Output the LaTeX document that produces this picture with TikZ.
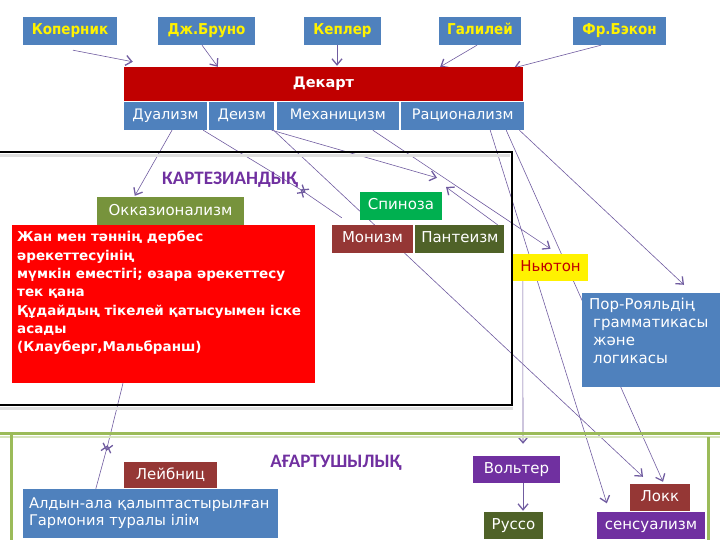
\documentclass[tikz,border=0pt]{standalone}
\usepackage{fontspec}
\setmainfont{DejaVu Sans}
\newfontfamily\condfont{DejaVu Sans Condensed}
\newfontfamily\calib{Carlito}
\usetikzlibrary{arrows.meta,positioning,backgrounds}

\definecolor{boxblue}{HTML}{4F81BD}
\definecolor{dekred}{HTML}{C00000}
\definecolor{okkgreen}{HTML}{77933C}
\definecolor{spingreen}{HTML}{00B050}
\definecolor{brickred}{HTML}{953735}
\definecolor{darkolive}{HTML}{4F6228}
\definecolor{enlpurple}{HTML}{7030A0}
\definecolor{framegreen}{HTML}{9BBB59}
\definecolor{linkc}{RGB}{112,92,160}

\begin{document}
\begin{tikzpicture}[
  x=1pt,y=-1pt,
  >={Straight Barb[length=6pt,width=10pt,line width=1.3pt]},
  scholar/.style={fill=boxblue,text=yellow,font=\condfont\bfseries\fontsize{15}{18}\selectfont,
    minimum height=28pt,inner sep=0pt,text height=11pt,text depth=3pt},
  idea/.style={fill=boxblue,text=white,font=\fontsize{14.5}{17}\selectfont,
    minimum height=28pt,inner sep=0pt,text height=11pt,text depth=3pt},
  termbox/.style={text=white,font=\fontsize{15}{18}\selectfont,
    minimum height=28pt,inner sep=0pt,text height=11pt,text depth=3pt},
  heading/.style={text=enlpurple,font=\calib\bfseries\fontsize{19}{22}\selectfont},
  link/.style={->,draw=linkc,line width=0.6pt},
]
\useasboundingbox (0,0) rectangle (720,540);

% section frames
\draw[gray!25,line width=2.5pt] (-5,155.5) -- (510,155.5);
\draw[gray!25,line width=2.5pt] (-5,408.5) -- (513,408.5);
\draw[line width=2.5pt] (-5,152) -- (512,152) -- (512,405) -- (-5,405);
\draw[framegreen!40,line width=2pt] (0,436.5) -- (720,436.5);
\draw[framegreen,line width=3pt] (0,433) -- (720,433);
\draw[framegreen,line width=3pt] (11,433) -- (11,541);
\draw[framegreen,line width=3pt] (708,437) -- (708,541);

\node[heading] (cart) at (230,180) {КАРТЕЗИАНДЫҚ};
\node[heading] (enl) at (336,463) {АҒАРТУШЫЛЫҚ};

% forerunners
\node[scholar,minimum width=94pt] (kop) at (70,31) {Коперник};
\node[scholar,minimum width=97pt] (bruno) at (206.5,31) {Дж.Бруно};
\node[scholar,minimum width=77pt] (kepl) at (342.5,31) {Кеплер};
\node[scholar,minimum width=82pt] (gal) at (480,31) {Галилей};
\node[scholar,minimum width=93pt] (bacon) at (619.5,31) {Фр.Бэкон};

% Descartes and his ideas
\node[fill=dekred,text=white,font=\bfseries\fontsize{14.5}{18}\selectfont,
  minimum width=399pt,minimum height=34pt,inner sep=0pt] (dek) at (323.5,84) {Декарт};
\node[idea,minimum width=83pt] (dual) at (165.5,116) {Дуализм};
\node[idea,minimum width=65pt,right=2pt of dual] (deism) {Деизм};
\node[idea,minimum width=122pt,right=2pt of deism] (mech) {Механицизм};
\node[idea,minimum width=123pt,right=2pt of mech] (rat) {Рационализм};

% cartesian branch
\node[termbox,fill=okkgreen,minimum width=147pt] (okk) at (170.5,211) {Окказионализм};
\node[fill=red,minimum width=303pt,minimum height=158pt,inner sep=0pt] (occ) at (163.5,304) {};
\node[text=white,font=\bfseries\fontsize{13.5}{18.3}\selectfont,align=left,anchor=north west,inner sep=0pt]
  (occtxt) at (17,231) {Жан мен тәннің дербес\\әрекеттесуінің\\мүмкін еместігі; өзара әрекеттесу\\тек қана\\Құдайдың тікелей қатысуымен іске\\асады\\(Клауберг,Мальбранш)};
\node[termbox,fill=spingreen,minimum width=82pt] (spin) at (401,206) {Спиноза};
\node[termbox,fill=brickred,minimum width=81pt] (mon) at (372.5,239) {Монизм};
\node[termbox,fill=darkolive,minimum width=89pt,right=2pt of mon] (pant) {Пантеизм};
\node[fill=yellow,text=dekred,font=\fontsize{15}{18}\selectfont,minimum width=75pt,minimum height=27pt,
  inner sep=0pt,text height=11pt,text depth=3pt] (newt) at (550.5,267.5) {Ньютон};
\node[fill=boxblue,minimum width=140pt,minimum height=94pt,inner sep=0pt] (port) at (652,340) {};
\node[text=white,font=\fontsize{15}{18}\selectfont,align=left,anchor=north west,inner sep=0pt]
  (porttxt) at (589,298) {Пор-Рояльдің\\\hspace*{4pt}грамматикасы\\\hspace*{4pt}және\\\hspace*{4pt}логикасы};

% enlightenment branch
\node[termbox,fill=brickred,minimum width=93pt,minimum height=26pt] (leib) at (170.5,475) {Лейбниц};
\node[fill=boxblue,text=white,font=\fontsize{14.7}{17}\selectfont,align=left,text width=243pt,
  minimum height=49pt,inner xsep=6pt,inner ysep=0pt] (harm) at (150.5,513.5) {Алдын-ала қалыптастырылған\\Гармония туралы ілім};
\node[termbox,fill=enlpurple,minimum width=87pt,minimum height=27pt] (volt) at (516.5,469.5) {Вольтер};
\node[termbox,fill=darkolive,minimum width=59pt,minimum height=27pt] (russo) at (513.5,525.5) {Руссо};
\node[termbox,fill=brickred,minimum width=60pt,minimum height=27pt] (lokk) at (660,497.5) {Локк};
\node[termbox,fill=enlpurple,minimum width=108pt,minimum height=27pt] (sens) at (651,525) {сенсуализм};

% crossing tips
\coordinate (xa) at (305.6,192.6);
\coordinate (xb) at (300.4,189.4);
\coordinate (xc) at (106.3,450.9);
\coordinate (xd) at (107.7,445.1);
\coordinate (pt) at (446,187);

\begin{scope}[on background layer]
\draw[link] ([xshift=3pt,yshift=-5pt]kop.south) -- ([xshift=9pt,yshift=5pt]dek.north west);
\draw[link] ([xshift=-4.5pt]bruno.south) -- ([xshift=94pt]dek.north west);
\draw[link] ([xshift=-5.5pt]kepl.south) -- ([xshift=13.5pt,yshift=1pt]dek.north);
\draw[link] ([xshift=-3pt]gal.south) -- ([xshift=-83pt]dek.north east);
\draw[link] ([xshift=-18.5pt]bacon.south) -- ([xshift=-9pt,yshift=-1pt]dek.north east);
\draw[link] ([xshift=6.5pt]dual.south) -- ([xshift=38pt,yshift=1pt]okk.north west);
\draw[link] ([xshift=-6pt]deism.south west) -- (xa);
\draw[link] ([xshift=10pt,yshift=7pt]mon.north west) -- (xb);
\draw[link] ([xshift=-3pt]deism.south east) -- ([xshift=36pt,yshift=14pt]spin.north);
\draw[link] ([xshift=-7pt]pant.north east) -- (pt);
\draw[link] ([xshift=-1pt]deism.south east) -- ([xshift=-17pt,yshift=7pt]lokk.north);
\draw[link] ([xshift=35pt]mech.south) -- ([yshift=5pt]newt.north);
\draw[link] ([xshift=27.5pt]rat.south) -- ([xshift=10pt,yshift=8pt]sens.north west);
\draw[link] ([xshift=43.5pt]rat.south) -- ([xshift=3pt,yshift=2pt]lokk.north);
\draw[link] ([xshift=-5pt]rat.south east) -- ([xshift=32pt,yshift=8pt]port.north);
\draw[link] ([xshift=-40.5pt]occ.south) -- (xc);
\draw[link] ([xshift=73pt]harm.north west) -- (xd);
\draw[link] ([xshift=10pt]newt.south west) -- ([xshift=6.5pt,yshift=12pt]volt.north);
\draw[link] ([xshift=6.5pt]volt.south) -- ([xshift=9.5pt,yshift=1pt]russo.north);
\end{scope}
\end{tikzpicture}
\end{document}
